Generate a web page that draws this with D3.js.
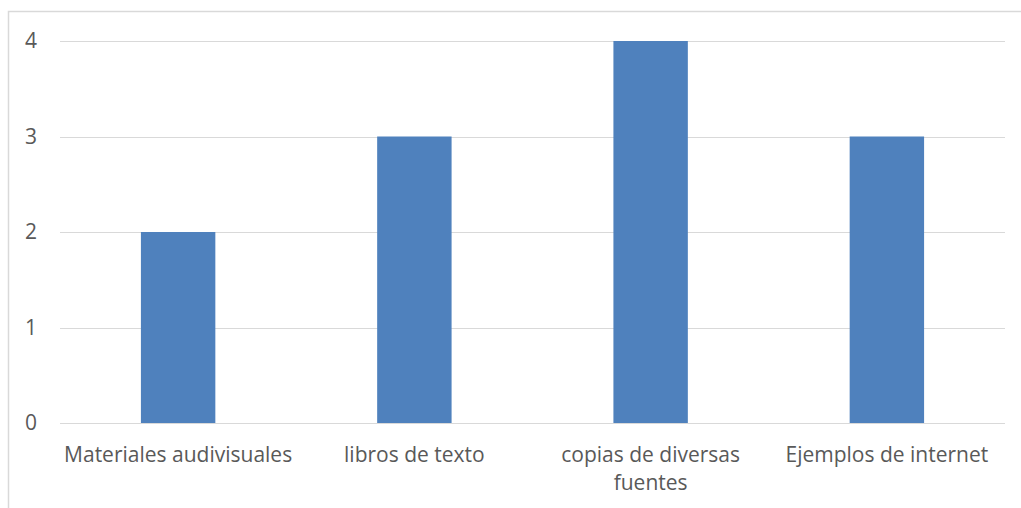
<!DOCTYPE html>
<html>
<head>
<meta charset="utf-8">
<script src="https://cdn.jsdelivr.net/npm/d3@7"></script>
<style>
  body { margin: 0; background: #fff; }
  text { font-family: "Open Sans", sans-serif; fill: #595959; }
</style>
</head>
<body>
<svg width="1021" height="508"></svg>
<script>
var categories = ['Materiales audivisuales', 'libros de texto', 'copias de diversas fuentes', 'Ejemplos de internet'];
var values = [2, 3, 4, 3];
var yTicks = [0, 1, 2, 3, 4];

var svg = d3.select('svg');

// chart border (runs off the bottom and right of the picture)
svg.append('rect')
    .attr('x', 8.5).attr('y', 11.5)
    .attr('width', 1030).attr('height', 520)
    .attr('fill', 'none')
    .attr('stroke', '#d9d9d9')
    .attr('stroke-width', 1.5);

var plot = {l: 60, r: 1005, t: 41, b: 423};

var xScale = d3.scaleBand()
    .domain(categories)
    .range([plot.l, plot.r])
    .paddingInner(0.685)
    .paddingOuter(0.3425);

var yScale = d3.scaleLinear()
    .domain([0, 4])
    .range([plot.b, plot.t]);

// gridlines
svg.append('g').selectAll('line')
    .data(yTicks)
    .enter().append('line')
    .attr('x1', plot.l).attr('x2', plot.r)
    .attr('y1', function(d) { return Math.round(yScale(d)) + 0.5; })
    .attr('y2', function(d) { return Math.round(yScale(d)) + 0.5; })
    .attr('stroke', '#d9d9d9')
    .attr('stroke-width', 1.2);

// y labels
svg.append('g').selectAll('text')
    .data(yTicks)
    .enter().append('text')
    .attr('x', 37)
    .attr('y', function(d) { return yScale(d); })
    .attr('dy', '0.35em')
    .attr('text-anchor', 'end')
    .style('font-size', '21px')
    .text(function(d) { return d; });

// bars
svg.append('g').selectAll('rect')
    .data(values)
    .enter().append('rect')
    .attr('x', function(d, i) { return xScale(categories[i]); })
    .attr('width', xScale.bandwidth())
    .attr('y', function(d) { return yScale(d); })
    .attr('height', function(d) { return yScale(0) - yScale(d); })
    .attr('fill', '#4f81bd');

// category labels, wrapped to the band width
var step = xScale.step();
var labels = svg.append('g').selectAll('text')
    .data(categories)
    .enter().append('text')
    .attr('x', function(d) { return xScale(d) + xScale.bandwidth() / 2; })
    .attr('y', 462)
    .attr('text-anchor', 'middle')
    .style('font-size', '21px');

labels.each(function(d) {
    var t = d3.select(this);
    var words = d.split(' ');
    var line = [];
    var tspan = t.append('tspan').attr('x', t.attr('x')).attr('dy', 0);
    words.forEach(function(w) {
        line.push(w);
        tspan.text(line.join(' '));
        if (tspan.node().getComputedTextLength() > step - 4 && line.length > 1) {
            line.pop();
            tspan.text(line.join(' '));
            line = [w];
            tspan = t.append('tspan').attr('x', t.attr('x')).attr('dy', 28).text(w);
        }
    });
});
</script>
</body>
</html>
